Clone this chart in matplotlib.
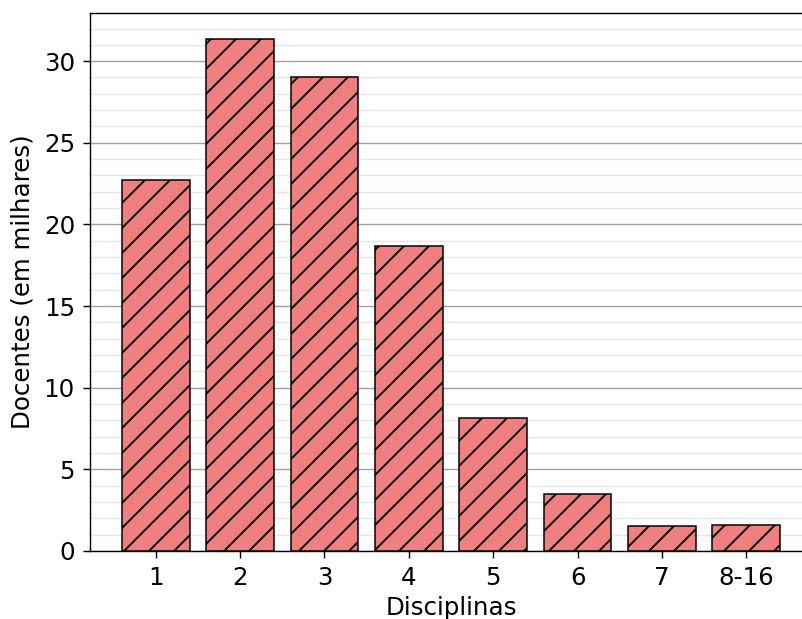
import matplotlib
matplotlib.use("Agg")
import matplotlib.pyplot as plt
from matplotlib.ticker import MultipleLocator

categories = ["1", "2", "3", "4", "5", "6", "7", "8-16"]
docentes = [22.75, 31.38, 29.02, 18.68, 8.15, 3.49, 1.53, 1.58]

DPI = 300
W, H = 802, 619
PX = 72.0 / DPI  # points per pixel

plt.rcParams["hatch.linewidth"] = 1.9 * PX
plt.rcParams["font.size"] = 24.5 * PX

fig = plt.figure(figsize=(W / DPI, H / DPI), dpi=DPI)
left, right, top, bottom = 90, 812, 13, 551
ax = fig.add_axes([left / W, (H - bottom) / H, (right - left) / W, (bottom - top) / H])

x = range(len(categories))
ax.bar(x, docentes, width=0.8, color="#F08080", edgecolor="black",
       linewidth=1.5 * PX, hatch="////", zorder=3)
ax.set_xticks(list(x))
ax.set_xticklabels(categories)
ax.set_xlim(-0.78, len(categories) - 1 + 0.78)
ax.set_ylim(0, 32.95)
ax.yaxis.set_major_locator(MultipleLocator(5))
ax.yaxis.set_minor_locator(MultipleLocator(1))
ax.grid(which="major", axis="y", color="#a0a0a0", linewidth=1.4 * PX, zorder=0)
ax.grid(which="minor", axis="y", color="#e6e6e6", linewidth=1.4 * PX, zorder=0)
ax.tick_params(which="minor", left=False)
ax.tick_params(which="major", labelsize=24.5 * PX, length=7 * PX,
               width=1.4 * PX, pad=8 * PX)
ax.set_xlabel("Disciplinas", fontsize=24.5 * PX, labelpad=6 * PX)
ax.set_ylabel("Docentes (em milhares)", fontsize=24.5 * PX, labelpad=9 * PX)
for s in ax.spines.values():
    s.set_linewidth(1.4 * PX)

fig.savefig("out.png", dpi=DPI)
